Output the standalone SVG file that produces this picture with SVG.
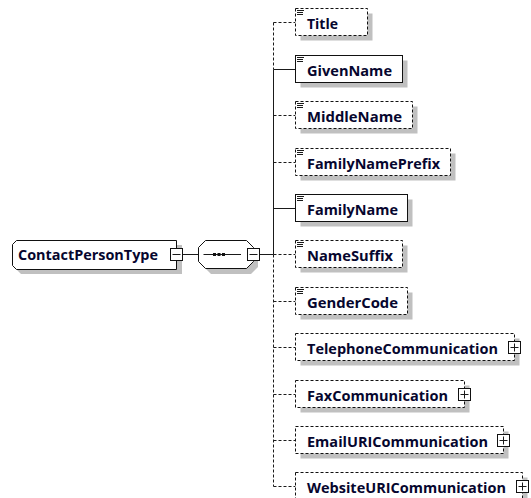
<svg xmlns="http://www.w3.org/2000/svg" width="531" height="498" viewBox="0 0 531 498">
<defs>
<style>
.sh{fill:#c0c0c0;stroke:none}
.bx{fill:#fff;stroke:#111;stroke-width:1}
.opt{stroke-dasharray:3,2}
.t{font-family:"Open Sans","Liberation Sans",sans-serif;font-weight:bold;font-size:14px;fill:#06062e}
.ln{stroke:#1a1a1a;stroke-width:1;fill:none}
.ic{stroke:#1a1a1a;stroke-width:1;fill:none}
.pb{fill:#fff;stroke:#111;stroke-width:1}
</style>
</defs>
<rect width="531" height="498" fill="#fff"/>

<g id="connectors">
<line class="ln" x1="182.5" y1="254.5" x2="198.5" y2="254.5"/>
<line class="ln" x1="259.5" y1="254.5" x2="273.5" y2="254.5"/>
<line class="ln opt" x1="273.5" y1="22.5" x2="273.5" y2="69.5"/>
<line class="ln" x1="273.5" y1="69.5" x2="273.5" y2="254.5"/>
<line class="ln opt" x1="273.5" y1="254.5" x2="273.5" y2="486.5"/>
<line class="ln opt" x1="273.5" y1="22.5" x2="295.5" y2="22.5"/>
<line class="ln" x1="273.5" y1="69.5" x2="295.5" y2="69.5"/>
<line class="ln opt" x1="273.5" y1="115.5" x2="295.5" y2="115.5"/>
<line class="ln opt" x1="273.5" y1="162.5" x2="295.5" y2="162.5"/>
<line class="ln" x1="273.5" y1="208.5" x2="295.5" y2="208.5"/>
<line class="ln opt" x1="273.5" y1="254.5" x2="295.5" y2="254.5"/>
<line class="ln opt" x1="273.5" y1="301.5" x2="295.5" y2="301.5"/>
<line class="ln opt" x1="273.5" y1="347.5" x2="295.5" y2="347.5"/>
<line class="ln opt" x1="273.5" y1="394.5" x2="295.5" y2="394.5"/>
<line class="ln opt" x1="273.5" y1="440.5" x2="295.5" y2="440.5"/>
<line class="ln opt" x1="273.5" y1="486.5" x2="295.5" y2="486.5"/>
</g>

<g id="ContactPersonType">
<path class="sh" d="M21,245 H182 V274 H21 L17,270 V249 Z"/>
<path class="bx" d="M16.5,240.5 H176.5 V269.5 H16.5 L12.5,265.5 V244.5 Z"/>
<text class="t" x="18" y="260" textLength="140" lengthAdjust="spacingAndGlyphs">ContactPersonType</text>
<rect class="pb" x="170.5" y="248.5" width="12" height="12"/>
<line class="ln" x1="172.5" y1="254.5" x2="180.5" y2="254.5"/>
</g>

<g id="sequence">
<path class="sh" d="M211,245 H251 L258,252 V267 L251,274 H211 L204,267 V252 Z"/>
<path class="bx" d="M205.5,240.5 H246.5 L253.5,247.5 V261.5 L246.5,268.5 H205.5 L198.5,261.5 V247.5 Z"/>
<line class="ln" x1="203.5" y1="254.5" x2="241" y2="254.5"/>
<rect x="213" y="253" width="3" height="3" fill="#111"/>
<rect x="217.5" y="253" width="3" height="3" fill="#111"/>
<rect x="222" y="253" width="3" height="3" fill="#111"/>
<rect class="pb" x="247.5" y="248.5" width="12" height="12"/>
<line class="ln" x1="249.5" y1="254.5" x2="257.5" y2="254.5"/>
</g>

<g id="Title">
<rect class="sh" x="300.5" y="13.5" width="72" height="27"/>
<rect class="bx opt" x="295.5" y="8.5" width="72" height="27"/>
<path class="ic" d="M297,10.5 H304 M297,12.5 H303 M297,14.5 H303"/>
<text class="t" x="307" y="29" textLength="31" lengthAdjust="spacingAndGlyphs">Title</text>
</g>

<g id="GivenName">
<rect class="sh" x="300.5" y="60.5" width="107" height="27"/>
<rect class="bx" x="295.5" y="55.5" width="107" height="27"/>
<path class="ic" d="M297,57.5 H304 M297,59.5 H303 M297,61.5 H303"/>
<text class="t" x="307" y="76" textLength="85" lengthAdjust="spacingAndGlyphs">GivenName</text>
</g>

<g id="MiddleName">
<rect class="sh" x="300.5" y="106.5" width="117" height="27"/>
<rect class="bx opt" x="295.5" y="101.5" width="117" height="27"/>
<path class="ic" d="M297,103.5 H304 M297,105.5 H303 M297,107.5 H303"/>
<text class="t" x="307" y="122" textLength="95" lengthAdjust="spacingAndGlyphs">MiddleName</text>
</g>

<g id="FamilyNamePrefix">
<rect class="sh" x="300.5" y="153.5" width="155" height="27"/>
<rect class="bx opt" x="295.5" y="148.5" width="155" height="27"/>
<path class="ic" d="M297,150.5 H304 M297,152.5 H303 M297,154.5 H303"/>
<text class="t" x="307" y="169" textLength="133" lengthAdjust="spacingAndGlyphs">FamilyNamePrefix</text>
</g>

<g id="FamilyName">
<rect class="sh" x="300.5" y="199.5" width="112" height="27"/>
<rect class="bx" x="295.5" y="194.5" width="112" height="27"/>
<path class="ic" d="M297,196.5 H304 M297,198.5 H303 M297,200.5 H303"/>
<text class="t" x="307" y="215" textLength="91" lengthAdjust="spacingAndGlyphs">FamilyName</text>
</g>

<g id="NameSuffix">
<rect class="sh" x="300.5" y="245.5" width="107" height="27"/>
<rect class="bx opt" x="295.5" y="240.5" width="107" height="27"/>
<path class="ic" d="M297,242.5 H304 M297,244.5 H303 M297,246.5 H303"/>
<text class="t" x="307" y="261" textLength="86" lengthAdjust="spacingAndGlyphs">NameSuffix</text>
</g>

<g id="GenderCode">
<rect class="sh" x="300.5" y="292.5" width="112" height="27"/>
<rect class="bx opt" x="295.5" y="287.5" width="112" height="27"/>
<path class="ic" d="M297,289.5 H304 M297,291.5 H303 M297,293.5 H303"/>
<text class="t" x="307" y="308" textLength="91" lengthAdjust="spacingAndGlyphs">GenderCode</text>
</g>

<g id="TelephoneCommunication">
<rect class="sh" x="300.5" y="338.5" width="219" height="27"/>
<rect class="bx opt" x="295.5" y="333.5" width="219" height="27"/>
<text class="t" x="307" y="354" textLength="191" lengthAdjust="spacingAndGlyphs">TelephoneCommunication</text>
<rect class="pb" x="508.5" y="341.5" width="12" height="12"/>
<path class="ln" d="M510.5,347.5 H518.5 M514.5,343.5 V351.5"/>
</g>

<g id="FaxCommunication">
<rect class="sh" x="300.5" y="385.5" width="169" height="27"/>
<rect class="bx opt" x="295.5" y="380.5" width="169" height="27"/>
<text class="t" x="307" y="401" textLength="141" lengthAdjust="spacingAndGlyphs">FaxCommunication</text>
<rect class="pb" x="458.5" y="388.5" width="12" height="12"/>
<path class="ln" d="M460.5,394.5 H468.5 M464.5,390.5 V398.5"/>
</g>

<g id="EmailURICommunication">
<rect class="sh" x="300.5" y="431.5" width="208" height="27"/>
<rect class="bx opt" x="295.5" y="426.5" width="208" height="27"/>
<text class="t" x="307" y="447" textLength="181" lengthAdjust="spacingAndGlyphs">EmailURICommunication</text>
<rect class="pb" x="497.5" y="434.5" width="12" height="12"/>
<path class="ln" d="M499.5,440.5 H507.5 M503.5,436.5 V444.5"/>
</g>

<g id="WebsiteURICommunication">
<rect class="sh" x="300.5" y="477.5" width="227" height="27"/>
<rect class="bx opt" x="295.5" y="472.5" width="227" height="27"/>
<text class="t" x="307" y="493" textLength="199" lengthAdjust="spacingAndGlyphs">WebsiteURICommunication</text>
<rect class="pb" x="516.5" y="480.5" width="12" height="12"/>
<path class="ln" d="M518.5,486.5 H526.5 M522.5,482.5 V490.5"/>
</g>
</svg>
